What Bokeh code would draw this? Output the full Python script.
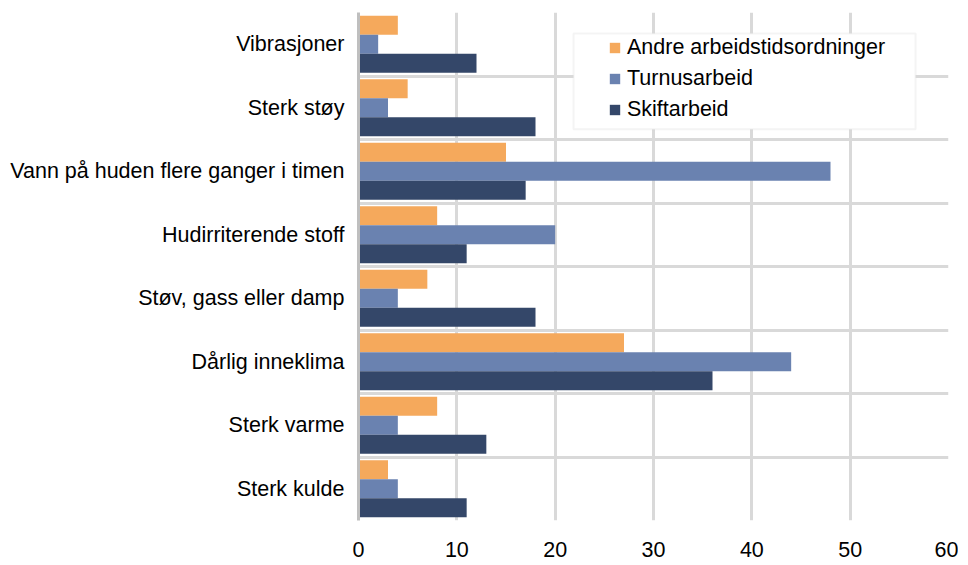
from bokeh.plotting import figure
from bokeh.models import (Range1d, LinearAxis, FixedTicker, Legend, LegendItem,
                          BoxAnnotation, ColumnDataSource)
from bokeh.embed import file_html
from bokeh.resources import INLINE

categories = ["Vibrasjoner", "Sterk støy", "Vann på huden flere ganger i timen",
              "Hudirriterende stoff", "Støv, gass eller damp", "Dårlig inneklima",
              "Sterk varme", "Sterk kulde"]
andre = [4, 5, 15, 8, 7, 27, 8, 3]
turnus = [2, 3, 48, 20, 4, 44, 4, 4]
skift = [12, 18, 17, 11, 18, 36, 13, 11]
series_names = ["Andre arbeidstidsordninger", "Turnusarbeid", "Skiftarbeid"]
series_values = [andre, turnus, skift]
series_colors = ["#F5A95C", "#6A82B0", "#344769"]
x_ticks = [0, 10, 20, 30, 40, 50, 60]

FONT = "Liberation Sans"
FS = "21.5px"

n = len(categories)
centers = [n - 0.5 - i for i in range(n)]
bar_h = 0.3
offsets = [bar_h, 0.0, -bar_h]

p = figure(x_range=Range1d(0, 60), y_range=Range1d(0, n),
           frame_width=590, frame_height=508,
           min_border_left=358, min_border_top=12, min_border_right=10, min_border_bottom=42,
           x_axis_location=None, y_axis_location=None,
           output_backend="svg", toolbar_location=None)
p.outline_line_color = None
p.background_fill_color = "white"
p.border_fill_color = "white"

# grids
p.xgrid.ticker = FixedTicker(ticks=x_ticks)
p.ygrid.ticker = FixedTicker(ticks=list(range(n + 1)))
for g in (p.xgrid, p.ygrid):
    g.grid_line_color = "#D9D9D9"
    g.grid_line_width = 3

# bars
renderers = []
for vals, off, col in zip(series_values, offsets, series_colors):
    src = ColumnDataSource(dict(y=[c + off for c in centers], v=vals))
    r = p.hbar(y="y", left=0, right="v", height=bar_h, source=src,
               fill_color=col, line_color=None)
    renderers.append(r)

# y axis
yax = LinearAxis(ticker=FixedTicker(ticks=centers),
                 major_label_overrides={c: cat for c, cat in zip(centers, categories)})
yax.axis_line_color = "#BFBFBF"
yax.axis_line_width = 3
yax.major_tick_in = 0
yax.major_tick_out = 0
yax.minor_tick_line_color = None
yax.major_label_standoff = 14
yax.major_label_text_font = FONT
yax.major_label_text_font_size = FS
yax.major_label_text_color = "#000000"
p.add_layout(yax, "left")

# x axis
xax = LinearAxis(ticker=FixedTicker(ticks=x_ticks))
xax.axis_line_color = None
xax.major_tick_in = 0
xax.major_tick_out = 0
xax.minor_tick_line_color = None
xax.major_label_standoff = 21
xax.major_label_text_font = FONT
xax.major_label_text_font_size = FS
xax.major_label_text_color = "#000000"
p.add_layout(xax, "below")

# legend frame
box = BoxAnnotation(left=21.87, right=56.65, top=7.67, bottom=6.16,
                    fill_color="white", fill_alpha=1.0,
                    line_color="#D9D9D9", line_width=2)
p.add_layout(box)

legend = Legend(items=[LegendItem(label=nm, renderers=[r]) for nm, r in zip(series_names, renderers)],
                location=(245, 393), orientation="vertical",
                background_fill_alpha=0, border_line_alpha=0,
                padding=5, spacing=6, glyph_width=13, glyph_height=13,
                label_standoff=6, label_height=20,
                label_text_font=FONT, label_text_font_size=FS,
                label_text_color="#000000")
p.add_layout(legend)

open("out.html", "w").write(file_html(p, INLINE))
